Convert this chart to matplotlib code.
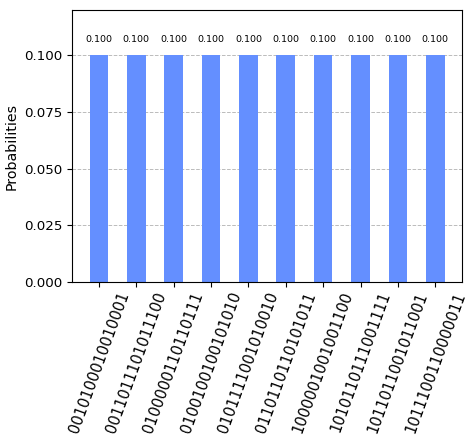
import numpy as np
import matplotlib
matplotlib.use("Agg")
import matplotlib.pyplot as plt

# bitstrings and their probabilities
states = ["0010100010010001", "0011011101011100", "0100000110110111",
          "0100100100101010", "0101111001010010", "0110110110101011",
          "1000001001001100", "1010110111001111", "1011011001011001",
          "1011100110000011"]
probs = [0.1, 0.1, 0.1, 0.1, 0.1, 0.1, 0.1, 0.1, 0.1, 0.1]

fig, ax = plt.subplots(figsize=(4.74, 4.42), dpi=100)
fig.subplots_adjust(left=0.152, right=0.975, top=0.977, bottom=0.362)

x = np.arange(len(states))
bars = ax.bar(x, probs, width=0.5, color="#648fff", zorder=2)
for b, p in zip(bars, probs):
    ax.text(b.get_x() + b.get_width() / 2, b.get_height() + 0.005,
            "%.3f" % p, ha="center", va="bottom", fontsize=6.8)

ax.set_xticks(x)
ax.set_xticklabels(states, rotation=70, fontsize=10.5, ha="center")
ax.set_xlim(-0.72, len(states) - 1 + 0.72)
ax.set_ylim(0, max(probs) * 1.2)
ax.set_yticks([0, 0.025, 0.05, 0.075, 0.1])
ax.tick_params(axis="y", labelsize=9.6)
ax.tick_params(axis="x", pad=2)
ax.set_ylabel("Probabilities", fontsize=10.2)
ax.grid(axis="y", linestyle="--", color="#bbbbbb", linewidth=0.7, zorder=0)

fig.savefig("out.png", dpi=100)
